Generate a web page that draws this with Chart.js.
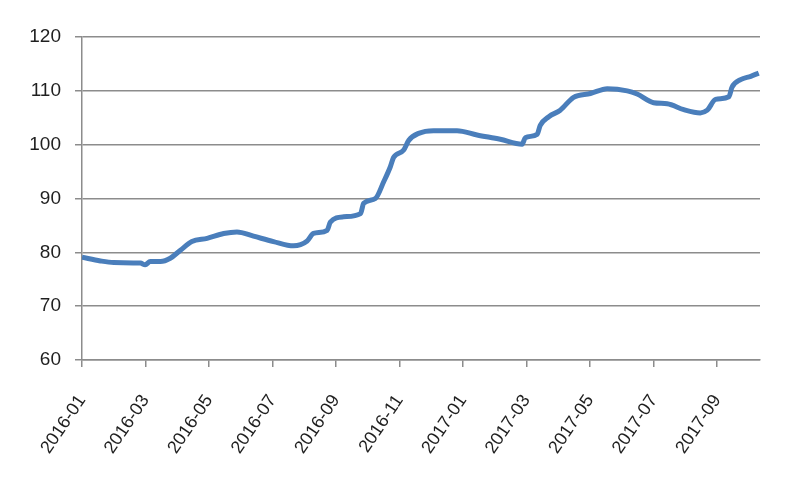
<!DOCTYPE html>
<html>
<head>
<meta charset="utf-8">
<script src="https://cdn.jsdelivr.net/npm/chart.js"></script>
<style>
  html, body { margin: 0; padding: 0; background: #fff; }
  #wrap { width: 800px; height: 500px; }
</style>
</head>
<body>
<div id="wrap"><canvas id="priceChart" width="800" height="500"></canvas></div>
<script>
// months since 2016-01 (x) and index values (y)
const months = [
    0.00, 0.58, 1.00, 1.84, 1.99, 2.15, 2.47, 2.78, 3.10, 3.46,
    3.94, 4.46, 4.88, 5.40, 6.03, 6.66, 7.09, 7.29, 7.72, 7.82,
    8.24, 8.77, 8.87, 9.24, 9.50, 9.71, 9.81, 10.13, 10.29, 10.60,
    11.07, 11.81, 12.44, 13.17, 13.86, 13.96, 14.33, 14.43, 14.70, 15.06,
    15.48, 16.01, 16.54, 17.17, 17.48, 18.00, 18.43, 18.95, 19.47, 19.69,
    19.95, 20.37, 20.47, 20.74, 21.06, 21.31
];
const values = [
    79.1, 78.4, 78.1, 78.0, 77.7, 78.3, 78.3, 78.9, 80.4, 82.0,
    82.6, 83.5, 83.8, 83.0, 82.0, 81.2, 82.1, 83.5, 84.1, 85.6,
    86.6, 87.2, 89.1, 90.0, 93.1, 95.9, 97.6, 99.0, 100.8, 102.1,
    102.6, 102.6, 101.8, 101.0, 100.1, 101.3, 101.9, 103.6, 105.2, 106.4,
    108.8, 109.5, 110.4, 110.0, 109.4, 107.8, 107.6, 106.5, 105.9, 106.4,
    108.4, 108.9, 110.7, 112.1, 112.7, 113.3
];

// x axis tick positions and their labels
const tickMonths = [0, 2, 4, 6, 8, 10, 12, 14, 16, 18, 20];
const tickLabels = [
    "2016-01", "2016-03", "2016-05", "2016-07", "2016-09", "2016-11",
    "2017-01", "2017-03", "2017-05", "2017-07", "2017-09"
];

const gridColor = "#8c8c8c";
const textColor = "#1f1f1f";
const fontFamily = "'Liberation Sans', Arial, sans-serif";

const points = months.map((m, i) => ({ x: m, y: values[i] }));

new Chart(document.getElementById("priceChart"), {
    type: "line",
    data: {
        datasets: [{
            data: points,
            borderColor: "#4a7ebb",
            borderWidth: 5,
            pointRadius: 0,
            cubicInterpolationMode: "monotone",
            fill: false
        }]
    },
    options: {
        responsive: false,
        animation: false,
        layout: {
            padding: { top: 37, right: 40, bottom: 0, left: 0 }
        },
        plugins: {
            legend: { display: false },
            tooltip: { enabled: false }
        },
        scales: {
            x: {
                type: "linear",
                min: 0,
                max: 21.35,
                afterBuildTicks: (scale) => {
                    scale.ticks = tickMonths.map(v => ({ value: v }));
                },
                afterFit: (scale) => { scale.height = 140; },
                grid: {
                    drawOnChartArea: false,
                    drawTicks: true,
                    tickLength: 7,
                    color: gridColor,
                    lineWidth: 1.5
                },
                border: { display: true, color: gridColor, width: 1.5 },
                ticks: {
                    minRotation: 56,
                    maxRotation: 56,
                    padding: 24,
                    color: textColor,
                    font: { family: fontFamily, size: 18 },
                    callback: (v) => {
                        const i = tickMonths.indexOf(v);
                        return i >= 0 ? tickLabels[i] : "";
                    }
                }
            },
            y: {
                min: 60,
                max: 120,
                afterFit: (scale) => { scale.width = 82; },
                grid: {
                    color: gridColor,
                    lineWidth: 1.5,
                    tickLength: 7
                },
                border: { display: true, color: gridColor, width: 1.5 },
                ticks: {
                    stepSize: 10,
                    padding: 14,
                    color: textColor,
                    font: { family: fontFamily, size: 19 }
                }
            }
        }
    }
});
</script>
</body>
</html>
